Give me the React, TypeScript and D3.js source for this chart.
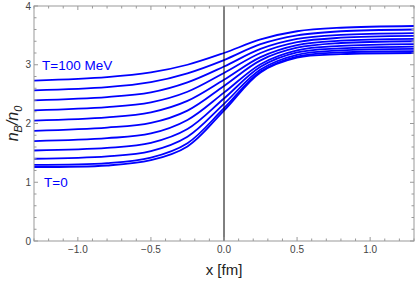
import React from "react";
import * as d3 from "d3";

// sample positions along x [fm]
const xs = [-1.3, -0.8, -0.5, -0.25, 0, 0.25, 0.5, 0.8, 1.3];

// n_B/n_0 per temperature
const T100 = [2.73, 2.79, 2.87, 3.0, 3.2, 3.43, 3.57, 3.63, 3.66];
const T90 = [2.565, 2.62, 2.705, 2.855, 3.08, 3.35, 3.5, 3.57, 3.6];
const T80 = [2.395, 2.45, 2.53, 2.7, 2.97, 3.27, 3.44, 3.51, 3.54];
const T70 = [2.225, 2.28, 2.36, 2.54, 2.86, 3.2, 3.385, 3.46, 3.49];
const T60 = [2.05, 2.105, 2.19, 2.385, 2.745, 3.13, 3.335, 3.41, 3.44];
const T50 = [1.875, 1.93, 2.01, 2.22, 2.64, 3.075, 3.29, 3.37, 3.4];
const T40 = [1.7, 1.75, 1.83, 2.06, 2.525, 3.01, 3.245, 3.32, 3.35];
const T30 = [1.54, 1.585, 1.67, 1.905, 2.425, 2.965, 3.21, 3.28, 3.31];
const T20 = [1.4, 1.44, 1.53, 1.775, 2.335, 2.92, 3.17, 3.245, 3.27];
const T10 = [1.295, 1.325, 1.42, 1.665, 2.26, 2.885, 3.14, 3.21, 3.23];
const T0 = [1.26, 1.285, 1.375, 1.61, 2.22, 2.87, 3.12, 3.18, 3.2];

const curves = [T0, T10, T20, T30, T40, T50, T60, T70, T80, T90, T100];

const xTicks = [-1.0, -0.5, 0.0, 0.5, 1.0];
const yTicks = [0, 1, 2, 3, 4];

const W = 415;
const H = 282;
const left = 34;
const right = 414;
const top = 6;
const bottom = 241;

const frameColor = "#999";
const labelColor = "#444";
const blue = "#0000ff";
const font = "'Liberation Sans', Arial, sans-serif";

export default function App() {
  const x = d3.scaleLinear().domain([-1.3, 1.3]).range([left, right]);
  const y = d3.scaleLinear().domain([0, 4]).range([bottom, top]);

  const line = d3
    .line<number>()
    .x((_, i) => x(xs[i]))
    .y((d) => y(d))
    .curve(d3.curveCatmullRom.alpha(0.5));

  const xMinor = d3.range(-13, 14).map((k) => k / 10).filter((v) => !xTicks.some((t) => Math.abs(t - v) < 1e-9));
  const yMinor = d3.range(0, 21).map((k) => k / 5).filter((v) => !yTicks.some((t) => Math.abs(t - v) < 1e-9));

  return (
    <svg
      width={W}
      height={H}
      style={{ position: "absolute", left: 0, top: 0, background: "#fff" }}
      fontFamily={font}
    >
      <defs>
        <clipPath id="plot">
          <rect x={left} y={top} width={right - left} height={bottom - top} />
        </clipPath>
      </defs>

      <g clipPath="url(#plot)">
        {curves.map((c, i) => (
          <path key={i} d={line(c) || ""} fill="none" stroke={blue} strokeWidth={1.8} />
        ))}
        <line x1={x(0)} x2={x(0)} y1={top} y2={bottom} stroke="#000" strokeWidth={1} />
      </g>

      {/* frame */}
      <rect x={left} y={top} width={right - left} height={bottom - top} fill="none" stroke={frameColor} strokeWidth={1} />

      {/* x ticks, bottom and top */}
      {xTicks.map((t) => (
        <g key={"xt" + t}>
          <line x1={x(t)} x2={x(t)} y1={bottom} y2={bottom - 4} stroke={frameColor} />
          <line x1={x(t)} x2={x(t)} y1={top} y2={top + 4} stroke={frameColor} />
          <text x={x(t)} y={bottom + 12} fontSize={10} fill={labelColor} textAnchor="middle">
            {t < 0 ? "\u2212" + Math.abs(t).toFixed(1) : t.toFixed(1)}
          </text>
        </g>
      ))}
      {xMinor.map((t) => (
        <g key={"xm" + t}>
          <line x1={x(t)} x2={x(t)} y1={bottom} y2={bottom - 2.5} stroke={frameColor} />
          <line x1={x(t)} x2={x(t)} y1={top} y2={top + 2.5} stroke={frameColor} />
        </g>
      ))}

      {/* y ticks, left and right */}
      {yTicks.map((t) => (
        <g key={"yt" + t}>
          <line x1={left} x2={left + 4} y1={y(t)} y2={y(t)} stroke={frameColor} />
          <line x1={right} x2={right - 4} y1={y(t)} y2={y(t)} stroke={frameColor} />
          <text x={left - 3} y={y(t) + 3.5} fontSize={10} fill={labelColor} textAnchor="end">
            {t}
          </text>
        </g>
      ))}
      {yMinor.map((t) => (
        <g key={"ym" + t}>
          <line x1={left} x2={left + 2.5} y1={y(t)} y2={y(t)} stroke={frameColor} />
          <line x1={right} x2={right - 2.5} y1={y(t)} y2={y(t)} stroke={frameColor} />
        </g>
      ))}

      {/* curve labels */}
      <text x={42} y={70} fontSize={13.5} fill={blue}>
        T=100 MeV
      </text>
      <text x={44} y={187} fontSize={13.5} fill={blue}>
        T=0
      </text>

      {/* axis titles */}
      <text x={(left + right) / 2} y={275} fontSize={15} fill="#222" textAnchor="middle">
        x [fm]
      </text>
      <text
        transform={`translate(18, ${(top + bottom) / 2}) rotate(-90)`}
        fontSize={16}
        fill="#222"
        textAnchor="middle"
        fontStyle="italic"
      >
        n<tspan fontSize={11} dy={4}>B</tspan>
        <tspan dy={-4}>/n</tspan>
        <tspan fontSize={11} dy={4}>0</tspan>
      </text>
    </svg>
  );
}
